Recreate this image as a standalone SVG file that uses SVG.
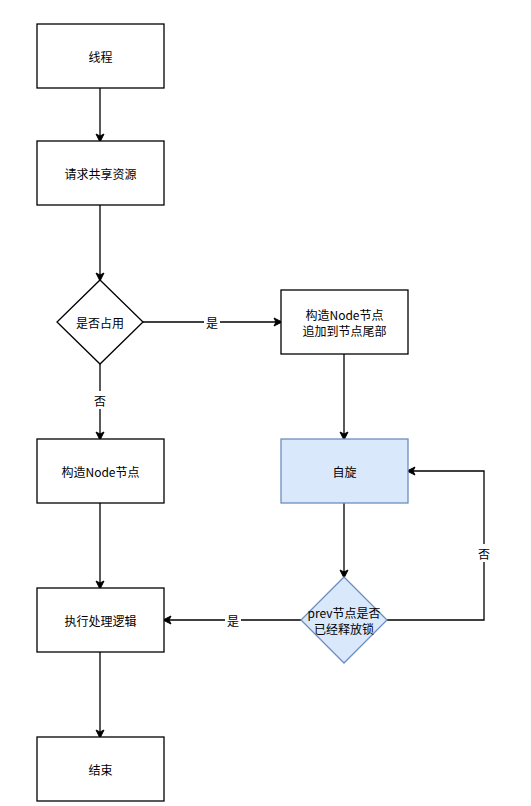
<svg xmlns="http://www.w3.org/2000/svg" width="531" height="806" viewBox="0 0 531 806">
<defs>
<marker id="arr" markerWidth="10" markerHeight="10" refX="8" refY="5" orient="auto" markerUnits="userSpaceOnUse">
<path d="M1,1 L9,5 L1,9 L3,5 Z" fill="#000" stroke="#000" stroke-width="1"/>
</marker>
<style>
.box{fill:#fff;stroke:#000;stroke-width:1.3}
.blue{fill:#dae8fc;stroke:#6c8ebf;stroke-width:1.3}
.t{font-family:"Noto Sans CJK SC","Liberation Sans",sans-serif;font-size:12px;fill:#000;text-anchor:middle;dominant-baseline:central}
.e{fill:none;stroke:#000;stroke-width:1.3;marker-end:url(#arr)}
.lbl{fill:#fff}
</style>
</defs>
<rect width="531" height="806" fill="#fff"/>
<g id="connectors">
<path class="e" d="M100,88 L100,141"/>
<path class="e" d="M100,205 L100,280"/>
<path class="e" d="M143,322 L281,322"/>
<path class="e" d="M100,364 L100,439"/>
<path class="e" d="M344,354 L344,439"/>
<path class="e" d="M100,503 L100,588"/>
<path class="e" d="M344,503 L344,577"/>
<path class="e" d="M302,620 L164,620"/>
<path class="e" d="M387,620 L484,620 L484,471 L408,471"/>
<path class="e" d="M100,651 L100,737"/>
<rect class="lbl" x="204" y="313" width="16" height="18"/>
<text class="t" x="212" y="322">是</text>
<rect class="lbl" x="92" y="391" width="16" height="18"/>
<text class="t" x="100" y="400">否</text>
<rect class="lbl" x="225" y="611" width="16" height="18"/>
<text class="t" x="233" y="620">是</text>
<rect class="lbl" x="476" y="544" width="16" height="18"/>
<text class="t" x="484" y="553">否</text>
</g>
<g id="n1"><rect class="box" x="37" y="24" width="127" height="64"/><text class="t" x="100.5" y="56">线程</text></g>
<g id="n2"><rect class="box" x="37" y="141" width="127" height="64"/><text class="t" x="100.5" y="173">请求共享资源</text></g>
<g id="n3"><path class="box" d="M100,280 L143,322 L100,364 L57,322 Z"/><text class="t" x="100" y="322">是否占用</text></g>
<g id="n4"><rect class="box" x="281" y="290" width="127" height="64"/><text class="t" x="344.5" y="314">构造Node节点</text><text class="t" x="344.5" y="330">追加到节点尾部</text></g>
<g id="n5"><rect class="blue" x="281" y="439" width="127" height="64"/><text class="t" x="344.5" y="471">自旋</text></g>
<g id="n6"><rect class="box" x="37" y="439" width="127" height="64"/><text class="t" x="100.5" y="471">构造Node节点</text></g>
<g id="n7"><path class="blue" d="M344,577 L387,620 L344,663 L301,620 Z"/><text class="t" x="344" y="612">prev节点是否</text><text class="t" x="344" y="628">已经释放锁</text></g>
<g id="n8"><rect class="box" x="37" y="588" width="127" height="64"/><text class="t" x="100.5" y="620">执行处理逻辑</text></g>
<g id="n9"><rect class="box" x="37" y="737" width="127" height="64"/><text class="t" x="100.5" y="769">结束</text></g>
</svg>
